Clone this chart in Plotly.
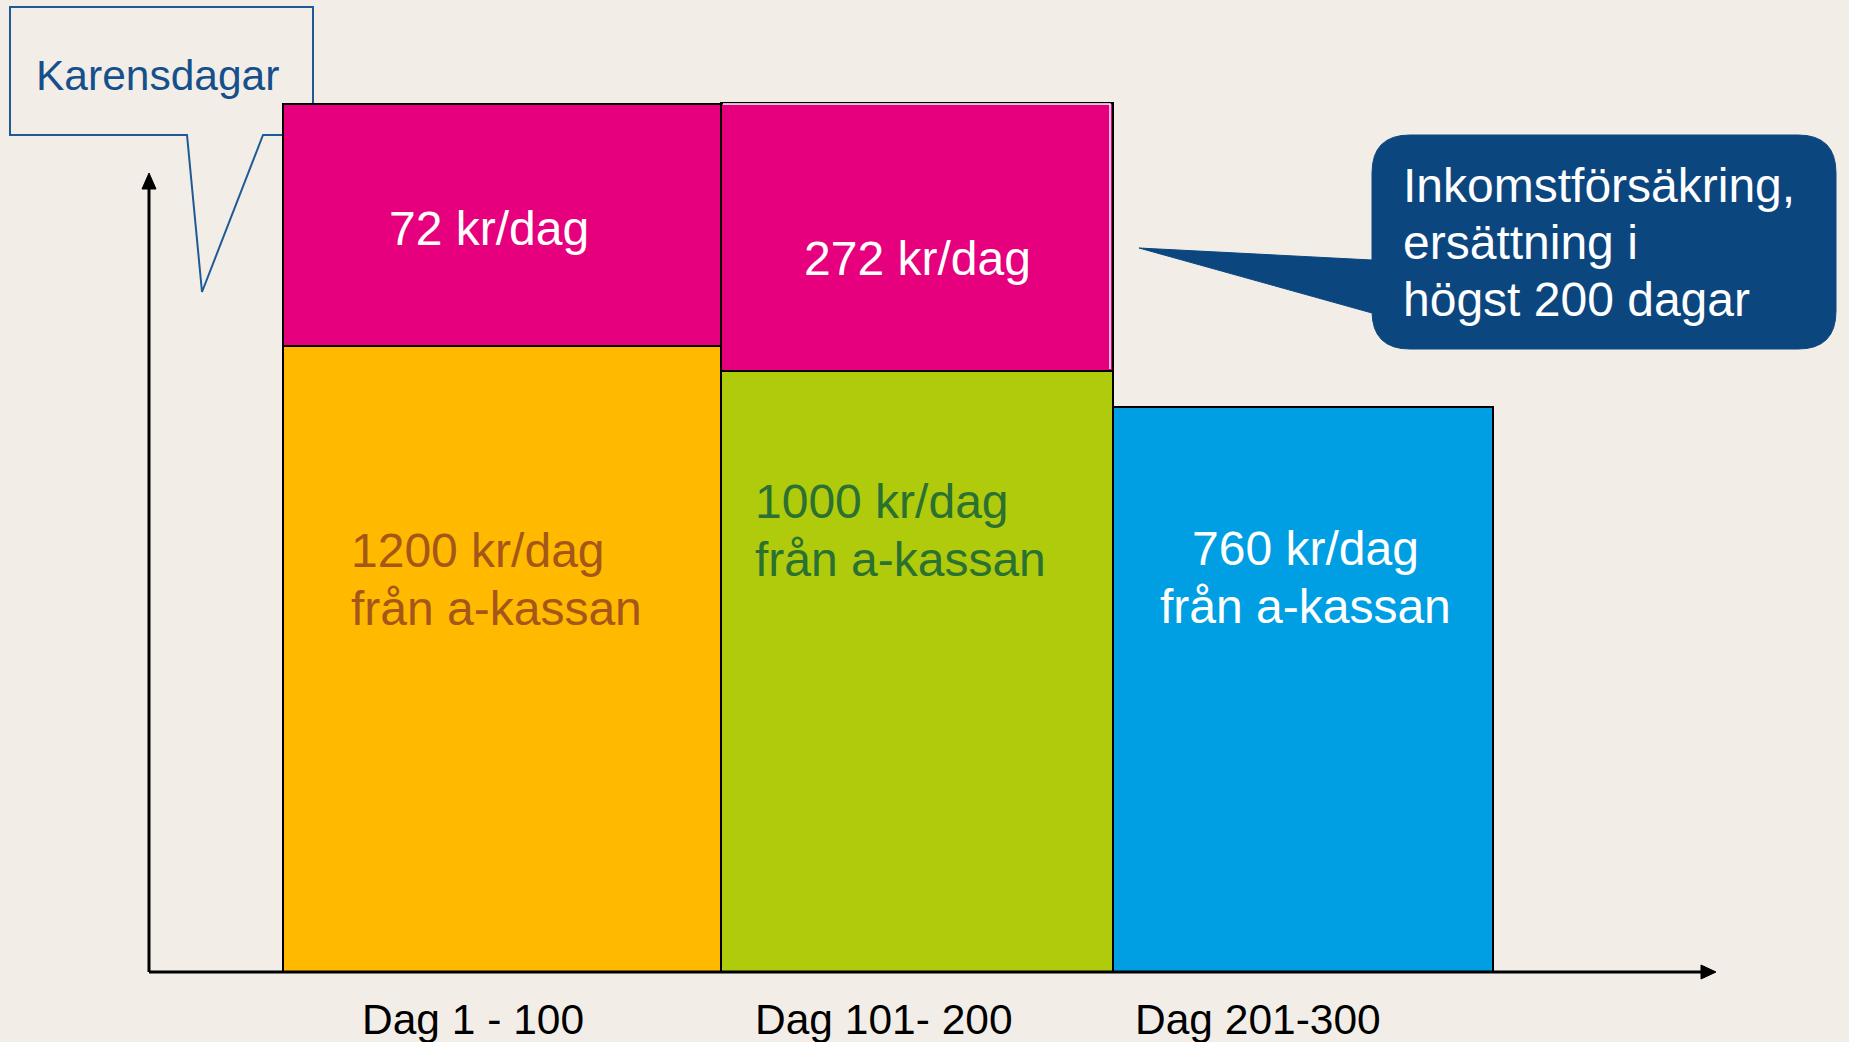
import plotly.graph_objects as go

# ---------------- data ----------------
categories = ["Dag 1 - 100", "Dag 101- 200", "Dag 201-300"]
# bar heights in picture units (the diagram is not drawn to scale)
a_kassa_height = [626, 601, 565]
insurance_height = [242, 268, None]
a_kassa_labels = [["1200 kr/dag", "från a-kassan"],
                  ["1000 kr/dag", "från a-kassan"],
                  ["760 kr/dag", "från a-kassan"]]
insurance_labels = ["72 kr/dag", "272 kr/dag", ""]
callout_lines = ["Inkomstförsäkring,", "ersättning i", "högst 200 dagar"]
karens_label = "Karensdagar"

# ---------------- style ----------------
W, H = 1849, 1042
X0, Y0 = 283, 972           # pixel position of first bar's left edge / baseline
bar_widths = [438, 392, 380]
BG = "#F2EEE7"
a_kassa_colors = ["#FFBA00", "#B0CB0B", "#009FE3"]
insurance_color = "#E6007E"
a_kassa_text_colors = ["#A5571A", "#2B7132", "#FFFFFF"]
FONT = "Arial, Liberation Sans, sans-serif"
BIG = 48


def px(x):
    return x - X0


def py(y):
    return Y0 - y


centers = []
left = 0
for w in bar_widths:
    centers.append(left + w / 2)
    left += w

fig = go.Figure()
fig.add_trace(go.Bar(
    x=centers, y=a_kassa_height, width=bar_widths,
    marker=dict(color=a_kassa_colors, line=dict(color="black", width=2)),
    hoverinfo="skip", showlegend=False))
fig.add_trace(go.Bar(
    x=centers, y=insurance_height, width=bar_widths,
    marker=dict(color=insurance_color, line=dict(color="black", width=2)),
    hoverinfo="skip", showlegend=False))

shapes = []
# Karensdagar speech box (behind bars)
kpath = "M {} {} L {} {} L {} {} L {} {} L {} {} L {} {} L {} {} Z".format(
    px(10), py(7), px(313), py(7), px(313), py(135), px(263), py(135),
    px(202), py(292), px(187), py(135), px(10), py(135))
shapes.append(dict(type="path", path=kpath, xref="x", yref="y", layer="below",
                   line=dict(color="#1F5A96", width=2), fillcolor="rgba(0,0,0,0)"))

# thin white inner edge on the second magenta block
shapes.append(dict(type="path", xref="x", yref="y",
                   path="M {} {} L {} {} L {} {}".format(px(723), py(104), px(1110), py(104), px(1110), py(369)),
                   line=dict(color="white", width=1.5)))

# Inkomstförsäkring callout (rounded box + pointer)
l, r, t, b, rad = 1372, 1836, 135, 349, 38
cpath = ("M {} {} L {} {} Q {} {} {} {} L {} {} Q {} {} {} {} L {} {} Q {} {} {} {} "
         "L {} {} L {} {} L {} {} L {} {} Q {} {} {} {} Z").format(
    px(l + rad), py(t), px(r - rad), py(t), px(r), py(t), px(r), py(t + rad),
    px(r), py(b - rad), px(r), py(b), px(r - rad), py(b),
    px(l + rad), py(b), px(l), py(b), px(l), py(b - rad),
    px(l), py(313), px(1139), py(248), px(l), py(260),
    px(l), py(t + rad), px(l), py(t), px(l + rad), py(t))
shapes.append(dict(type="path", path=cpath, xref="x", yref="y",
                   line=dict(color="#0C467F", width=1), fillcolor="#0C467F"))

# axes with arrows
shapes.append(dict(type="line", xref="x", yref="y", x0=px(149), y0=py(972), x1=px(149), y1=py(186),
                   line=dict(color="black", width=3)))
shapes.append(dict(type="path", xref="x", yref="y",
                   path="M {} {} L {} {} L {} {} Z".format(px(149), py(173), px(142), py(189), px(156), py(189)),
                   fillcolor="black", line=dict(color="black", width=1)))
shapes.append(dict(type="line", xref="x", yref="y", x0=px(149), y0=py(972), x1=px(1703), y1=py(972),
                   line=dict(color="black", width=3)))
shapes.append(dict(type="path", xref="x", yref="y",
                   path="M {} {} L {} {} L {} {} Z".format(px(1716), py(972), px(1701), py(965), px(1701), py(979)),
                   fillcolor="black", line=dict(color="black", width=1)))

ann = []


def text(s, x, y, size, color, anchor="center"):
    ann.append(dict(text=s, x=px(x), y=py(y), xref="x", yref="y", showarrow=False,
                    xanchor=anchor, yanchor="middle",
                    font=dict(family=FONT, size=size, color=color)))


text(karens_label, 157, 75, 42.5, "#16508C")
# insurance labels
ins_pos = [(489, 228), (917, 258)]
for lab, (x, y) in zip(insurance_labels, ins_pos):
    if lab:
        text(lab, x, y, BIG, "white")
# a-kassa labels
ak_pos = [(349, 550, "left"), (753, 501, "left"), (1305, 548, "center")]
for lines, (x, y, anc), col in zip(a_kassa_labels, ak_pos, a_kassa_text_colors):
    for i, s in enumerate(lines):
        text(s, x, y + i * 58, BIG, col, anc)
# callout text
for i, s in enumerate(callout_lines):
    text(s, 1401, 185 + i * 57, BIG, "white", "left")
# category labels
cat_shift = [-29, -33, -45]
for c, cx, sh in zip(categories, centers, cat_shift):
    text(c, cx + X0 + sh, 1019, 42.5, "black")

fig.update_layout(
    width=W, height=H, margin=dict(l=0, r=0, t=0, b=0),
    paper_bgcolor=BG, plot_bgcolor=BG, barmode="stack", bargap=0,
    xaxis=dict(range=[px(0), px(W)], visible=False, fixedrange=True),
    yaxis=dict(range=[py(H), py(0)], visible=False, fixedrange=True),
    shapes=shapes, annotations=ann, showlegend=False,
)
fig.write_html("out.html", config={"displayModeBar": False},
               post_script="document.body.style.margin='0';document.body.style.overflow='hidden';")
